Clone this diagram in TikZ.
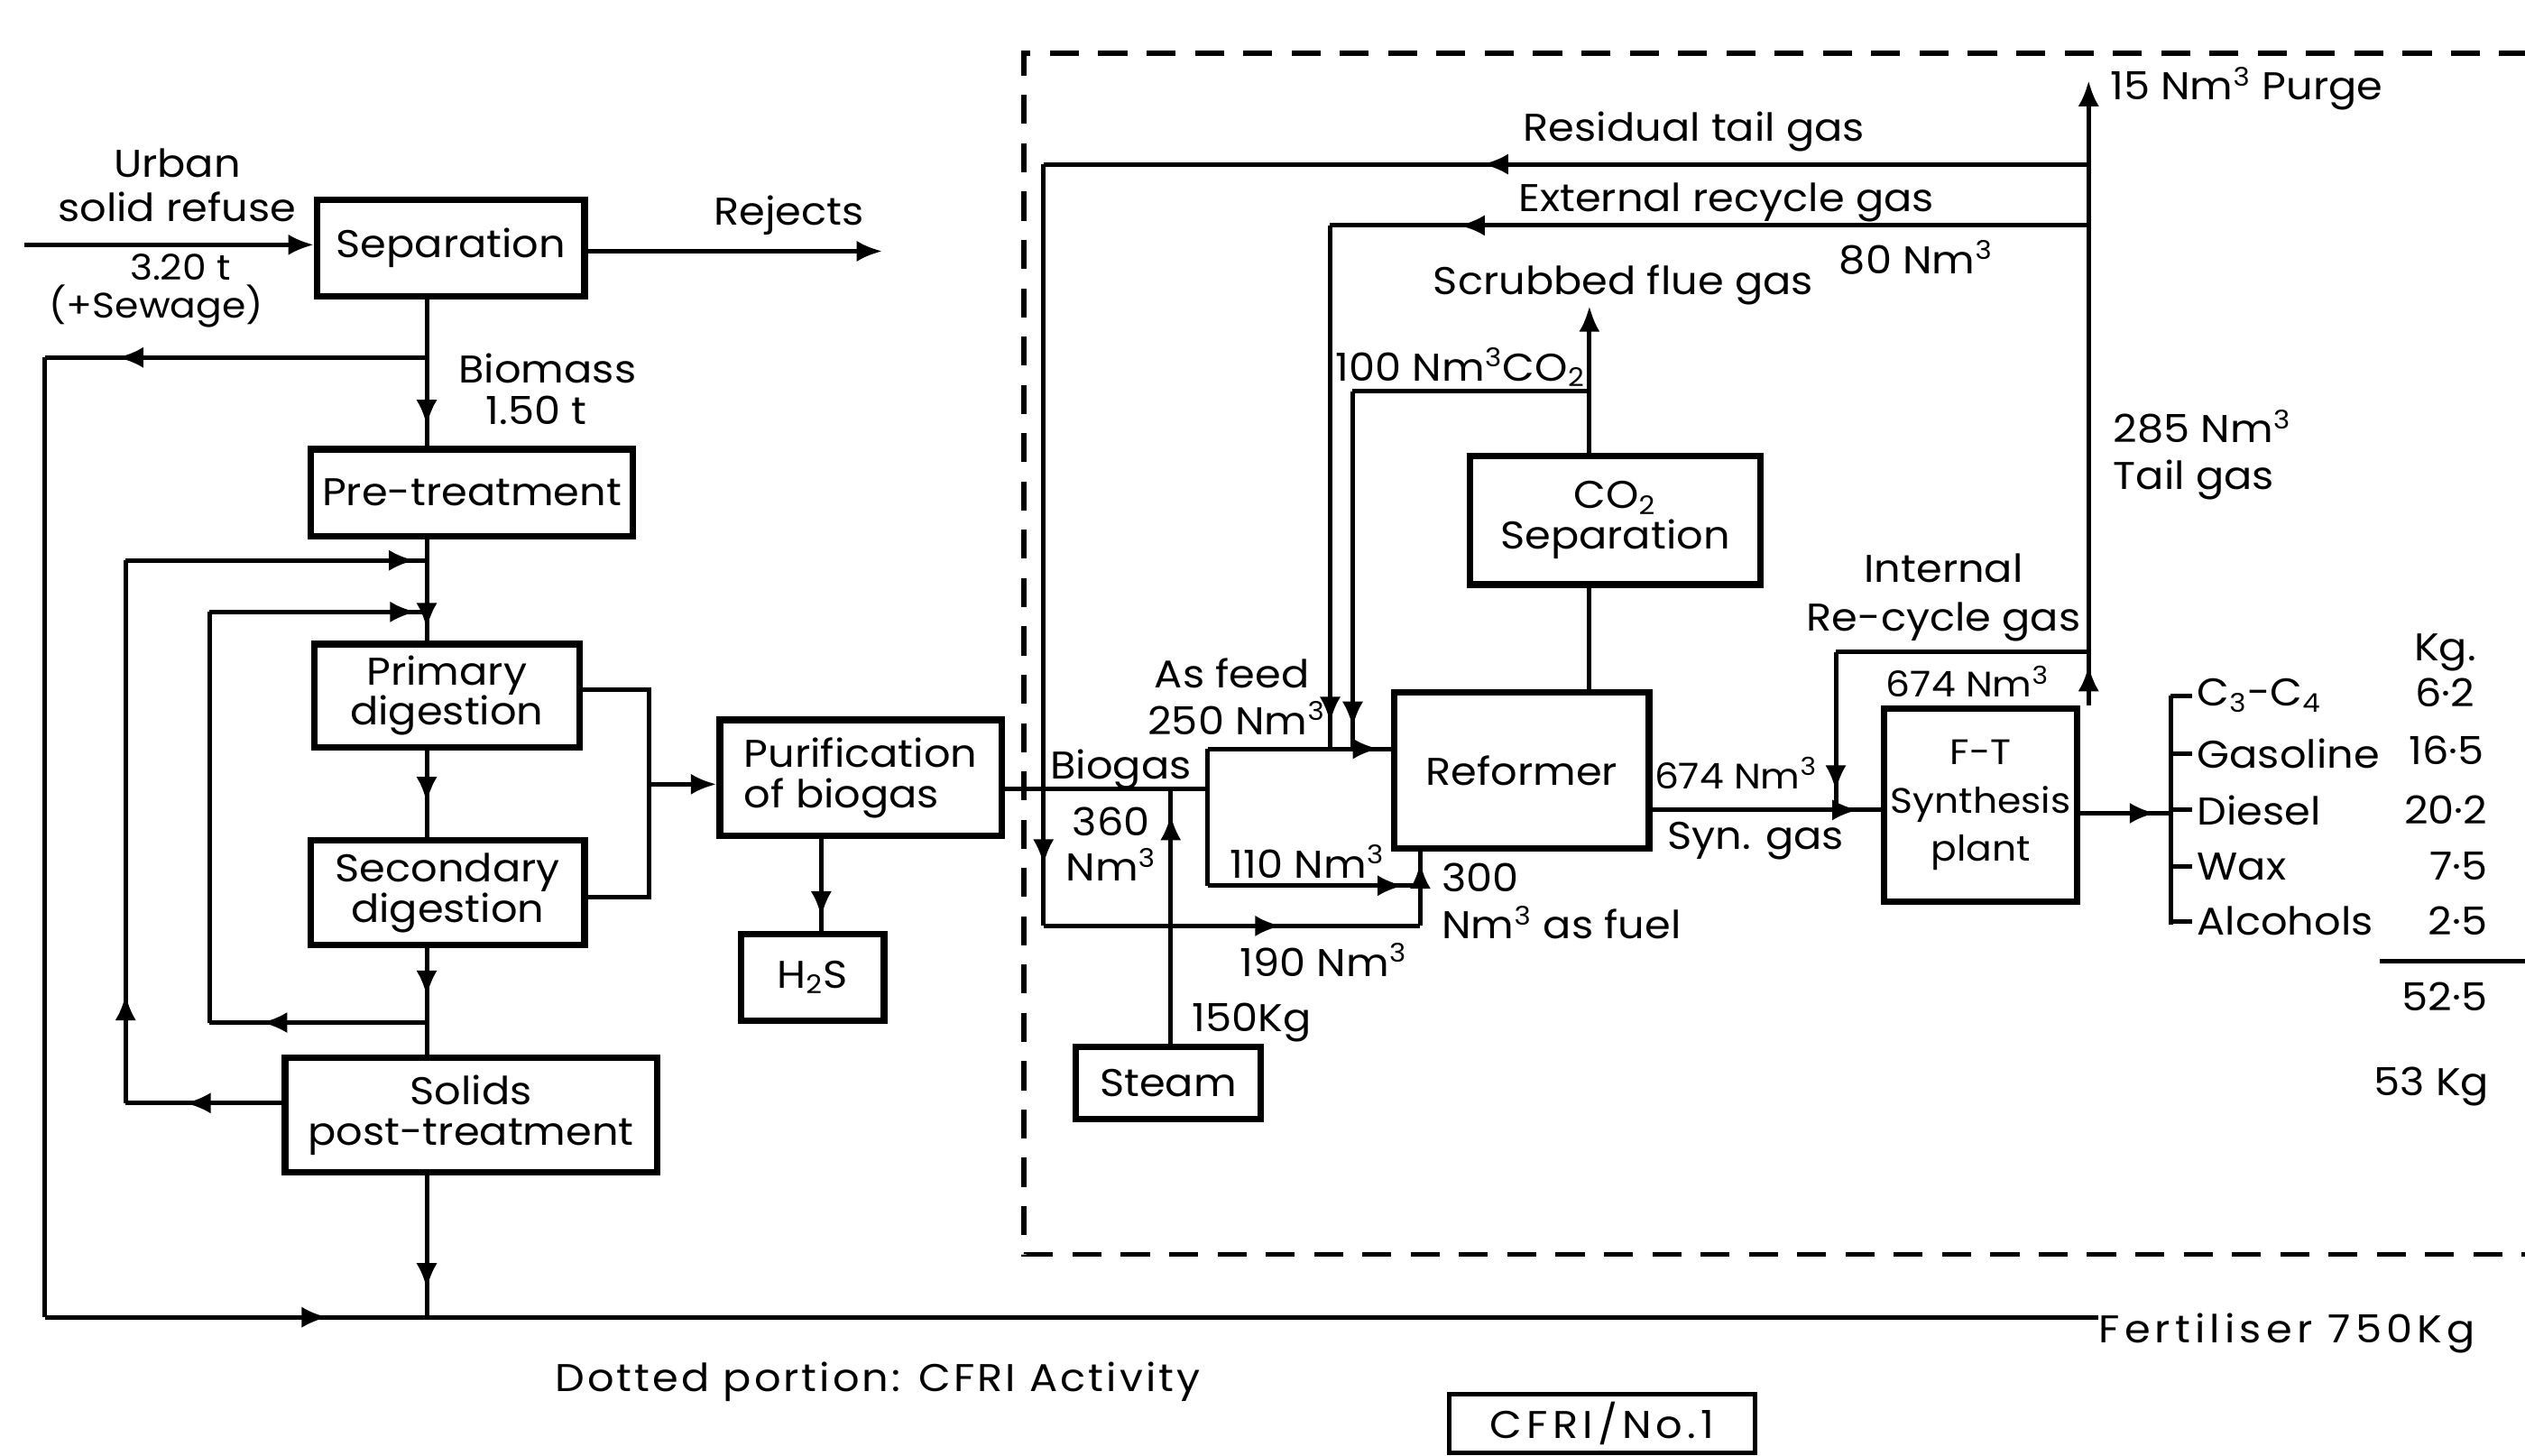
\documentclass[tikz,border=0pt]{standalone}
\usepackage{fontspec}
\setmainfont{Poppins}[FakeStretch=1.08]
\usetikzlibrary{arrows.meta,decorations.markings}
\begin{document}
\begin{tikzpicture}[x=0.5pt,y=-0.5pt,
  every node/.style={font=\fontsize{12}{13}\selectfont, inner sep=0pt},
  box/.style={draw, line width=2pt, align=center, font=\fontsize{12}{12.5}\selectfont},
  pipe/.style={line width=1.4pt},
  tip/.style={-{Latex[length=8pt,width=6.5pt]}},
  ma/.style={postaction={decorate,decoration={markings,mark=at position #1 with {\arrow{Latex[length=8pt,width=6.5pt]}}}}},
  lbl/.style={align=center},
]
\useasboundingbox (0,0) rectangle (1568,904);

% ---------- boxes ----------
\node[box, minimum width=83pt, minimum height=30pt] (sep) at (280,154) {Separation};
\node[box, minimum width=100pt, minimum height=27pt] (pre) at (293,306) {Pre-treatment};
\node[box, minimum width=82.5pt, minimum height=32pt] (prim) at (277.5,432) {Primary\\digestion};
\node[box, minimum width=85pt, minimum height=32.5pt] (sec) at (278,554.5) {Secondary\\digestion};
\node[box, minimum width=115.5pt, minimum height=35.5pt] (post) at (292.5,692.5) {Solids\\post-treatment};
\node[box, minimum width=87.5pt, minimum height=36pt, align=left] (pur) at (534.5,483) {Purification\\of biogas};
\node[box, minimum width=44.5pt, minimum height=27pt] (h2s) at (504.5,607) {H\textsubscript{2}S};
\node[box, minimum width=57.5pt, minimum height=22.5pt] (steam) at (725.5,672.5) {Steam};
\node[box, minimum width=79pt, minimum height=48.5pt] (ref) at (945,478.5) {Reformer};
\node[box, minimum width=90pt, minimum height=40pt] (co2) at (1003,323) {CO\textsubscript{2}\\Separation};
\node[box, minimum width=60pt, minimum height=60pt, font=\fontsize{11}{15}\selectfont] (ft) at (1230,500) {F-T\\Synthesis\\plant};
\node[box, line width=1.4pt, minimum width=95pt, minimum height=18pt, font=\fontsize{12}{13}\selectfont\addfontfeature{LetterSpace=12}] (cfri) at (995,884) {CFRI/No.1};

% ---------- labels ----------
\node[lbl, font=\fontsize{12}{13.5}\selectfont] (urban) at (110,115) {Urban\\solid refuse};
\node[font=\fontsize{11}{12}\selectfont] (w320) at (112,166) {3.20 t};
\node[font=\fontsize{11}{12}\selectfont] (sewage) at (97,190) {(+Sewage)};
\node (rejl) at (490,134) {Rejects};
\node (biom) at (340,229) {Biomass};
\node (biomt) at (333,255) {1.50 t};
\node (resid) at (1052,82) {Residual tail gas};
\node (extl) at (1072,126) {External recycle gas};
\node (n80) at (1190,160) {80 Nm\textsuperscript{3}};
\node (scrub) at (1008,177) {Scrubbed flue gas};
\node (n100) at (907,228) {100 Nm\textsuperscript{3}CO\textsubscript{2}};
\node[anchor=west] (purge) at (1310,55) {15 Nm\textsuperscript{3} Purge};
\node[anchor=west] (n285) at (1312,265) {285 Nm\textsuperscript{3}};
\node[anchor=west] (tailg) at (1312,298) {Tail gas};
\node (intl) at (1207,353) {Internal};
\node (recyc) at (1207,386) {Re-cycle gas};
\node[font=\fontsize{11}{12}\selectfont] (n674a) at (1222,423) {674 Nm\textsuperscript{3}};
\node (asfeed) at (765,418) {As feed};
\node (n250) at (768,446) {250 Nm\textsuperscript{3}};
\node[anchor=west] (biogas) at (652,478) {Biogas};
\node (n360) at (690,510) {360};
\node (n360b) at (690,537) {Nm\textsuperscript{3}};
\node (n110) at (812,535) {110 Nm\textsuperscript{3}};
\node[anchor=west, font=\fontsize{11}{12}\selectfont] (n674b) at (1027,480) {674 Nm\textsuperscript{3}};
\node[anchor=west] (syngas) at (1035,522) {Syn. gas};
\node[anchor=west] (n300) at (895,545) {300};
\node[anchor=west] (fuel) at (895,573) {Nm\textsuperscript{3} as fuel};
\node (n190) at (822,596) {190 Nm\textsuperscript{3}};
\node[anchor=west] (n150) at (740,635) {150Kg};
\node[anchor=west] (pc) at (1364,432) {C\textsubscript{3}-C\textsubscript{4}};
\node[anchor=west] (pg) at (1364,468) {Gasoline};
\node[anchor=west] (pd) at (1364,503) {Diesel};
\node[anchor=west] (pw) at (1364,538) {Wax};
\node[anchor=west] (pa) at (1364,572) {Alcohols};
\node[anchor=east] (kg) at (1538,405) {Kg.};
\node[anchor=east] (v1) at (1537,430) {6·2};
\node[anchor=east] (v2) at (1543,466) {16·5};
\node[anchor=east] (v3) at (1545,503) {20·2};
\node[anchor=east] (v4) at (1545,538) {7·5};
\node[anchor=east] (v5) at (1545,572) {2·5};
\node[anchor=east] (tot) at (1545,619) {52·5};
\node[anchor=east] (tot2) at (1546,675) {53 Kg};
\node[anchor=west, font=\fontsize{12}{13}\selectfont\addfontfeature{LetterSpace=12}] (fert) at (1303,828) {Fertiliser 750Kg};
\node[font=\fontsize{12}{13}\selectfont\addfontfeature{LetterSpace=7}] (dotted) at (545,858) {Dotted portion: CFRI Activity};

% ---------- coordinates ----------
\coordinate (mx) at (265,0);
\coordinate (in) at (15,152);
\coordinate (rej) at (548,156);
\coordinate (j222) at (265,222);
\coordinate (L222) at (28,222);
\coordinate (L818) at (28,818);
\coordinate (b818) at (265,818);
\coordinate (j348) at (265,348);
\coordinate (o348) at (78,348);
\coordinate (o685) at (78,685);
\coordinate (j380) at (265,380);
\coordinate (i380) at (130,380);
\coordinate (i635) at (130,635);
\coordinate (j635) at (265,635);
\coordinate (g428) at (403,428);
\coordinate (g557) at (403,557);
\coordinate (g487) at (403,487);
\coordinate (hx) at (510,0);
\coordinate (bg750) at (750,490);
\coordinate (f465) at (750,465);
\coordinate (f550) at (750,550);
\coordinate (r550) at (882,550);
\coordinate (t102) at (1297,102);
\coordinate (l102) at (648,102);
\coordinate (l575) at (648,575);
\coordinate (r575) at (882,575);
\coordinate (s490) at (727,490);
\coordinate (cx) at (987,0);
\coordinate (sf) at (987,190);
\coordinate (c243) at (987,243);
\coordinate (k243) at (840,243);
\coordinate (k465) at (840,465);
\coordinate (t140) at (1297,140);
\coordinate (e140) at (826,140);
\coordinate (e465) at (826,465);
\coordinate (t52) at (1297,50);
\coordinate (t405) at (1297,405);
\coordinate (ti405) at (1140,405);
\coordinate (ti503) at (1140,503);
\coordinate (p505) at (1348,505);
\coordinate (p432) at (1348,432);
\coordinate (p574) at (1348,574);

% ---------- dashed boundary ----------
\draw[line width=1.6pt, dash pattern=on 9pt off 6pt] (1600,33) -- (636,33) -- (636,779) -- (1600,779);

% ---------- left part ----------
\draw[pipe,tip] (in) -- (in -| sep.west);
\draw[pipe,tip] (sep.east |- rej) -- (rej);
\draw[pipe,ma=0.86] (sep.south -| mx) -- (pre.north -| mx);
\draw[pipe,ma=0.81] (j222) -- (L222);
\draw[pipe] (L222) -- (L818);
\draw[pipe,ma=0.74] (L818) -- (b818);
\draw[pipe] (b818) -- (b818 -| fert.west);
\draw[pipe,ma=0.8] (post.south -| mx) -- (b818);
\draw[pipe,ma=0.88] (pre.south -| mx) -- (prim.north -| mx);
\draw[pipe,ma=0.62] (post.west |- o685) -- (o685);
\draw[pipe,ma=0.2] (o685) -- (o348);
\draw[pipe,ma=0.96] (o348) -- (j348);
\draw[pipe,ma=0.76] (j635) -- (i635);
\draw[pipe] (i635) -- (i380);
\draw[pipe,ma=0.95] (i380) -- (j380);
\draw[pipe,ma=0.6] (prim.south -| mx) -- (sec.north -| mx);
\draw[pipe,ma=0.45] (sec.south -| mx) -- (post.north -| mx);
\draw[pipe] (prim.east |- g428) -- (g428) -- (g557) -- (sec.east |- g557);
\draw[pipe,tip] (g487) -- (pur.west |- g487);
\draw[pipe,ma=0.85] (pur.south -| hx) -- (h2s.north -| hx);

% ---------- biogas & reformer ----------
\draw[pipe] (pur.east |- bg750) -- (bg750);
\draw[pipe] (bg750) -- (f465);
\draw[pipe,ma=0.93] (f465) -- (ref.west |- f465);
\draw[pipe] (bg750) -- (f550);
\draw[pipe,ma=0.92] (f550) -- (r550);
\draw[pipe,ma=0.58] (t102) -- (l102);
\draw[pipe,ma=0.92] (l102) -- (l575);
\draw[pipe,ma=0.63] (l575) -- (r575);
\draw[pipe,ma=0.85] (r575) -- (ref.south -| r575);
\draw[pipe,ma=0.9] (steam.north -| s490) -- (s490);
\draw[pipe] (co2.south -| cx) -- (ref.north -| cx);
\draw[pipe,tip] (co2.north -| cx) -- (sf);
\draw[pipe] (c243) -- (k243);
\draw[pipe,ma=0.94] (k243) -- (k465);
\draw[pipe,ma=0.83] (t140) -- (e140);
\draw[pipe,ma=0.95] (e140) -- (e465);

% ---------- F-T ----------
\draw[pipe,ma=0.75] (ft.north -| t405) -- (t405);
\draw[pipe,tip] (t405) -- (t52);
\draw[pipe] (t405) -- (ti405);
\draw[pipe,ma=0.88] (ti405) -- (ti503);
\draw[pipe,ma=0.9] (ref.east |- ti503) -- (ft.west |- ti503);
\draw[pipe,ma=0.83] (ft.east |- p505) -- (p505);
\draw[pipe] (p432) -- (p574);
\foreach \n in {pc,pg,pd,pw,pa} \draw[pipe] (\n.west -| p432) -- ([xshift=-1.5pt]\n.west);
\draw[pipe] (1478,597) -- (1600,597);
\end{tikzpicture}
\end{document}
